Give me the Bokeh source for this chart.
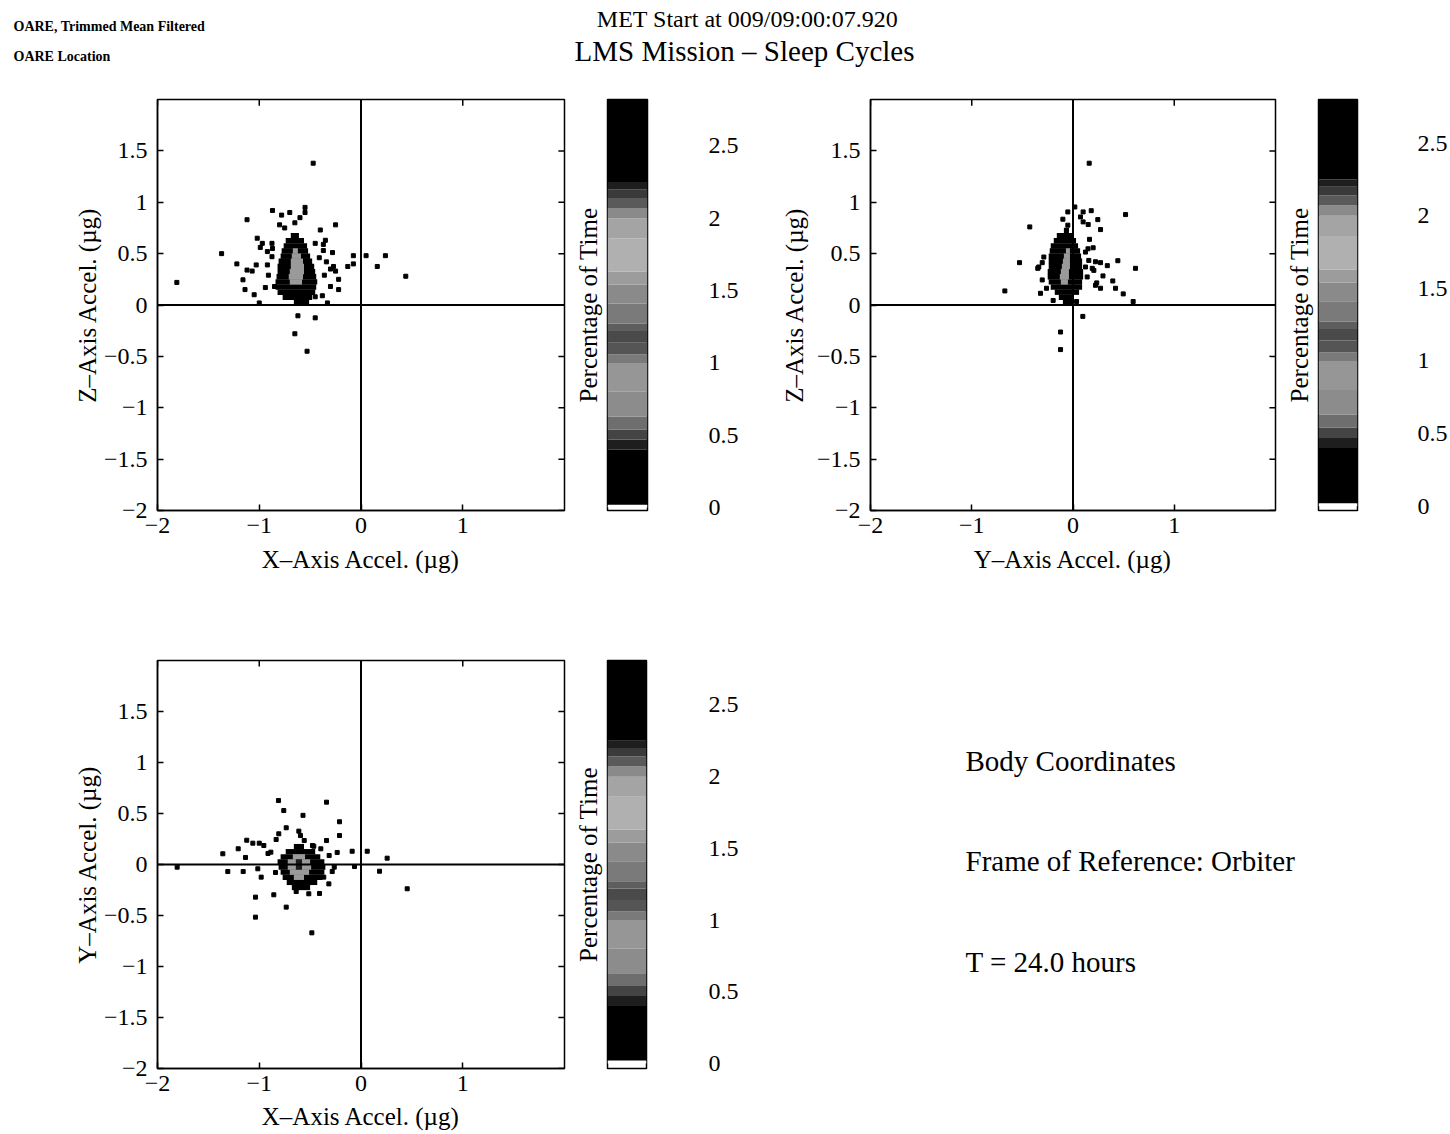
from bokeh.plotting import figure
from bokeh.models import Range1d, FixedTicker, Span, Title
from bokeh.layouts import column, row
from bokeh.embed import file_html
from bokeh.resources import INLINE
from bokeh.core.properties import value

FONT = "Liberation Serif"

# ---------------- data ----------------
x_ticks = [-2, -1, 0, 1]
x_tick_labels = ["−2", "−1", "0", "1"]
y_ticks = [-2, -1.5, -1, -0.5, 0, 0.5, 1, 1.5]
y_tick_labels = ["−2", "−1.5", "−1", "−0.5", "0", "0.5", "1", "1.5"]
cb_ticks = [0, 0.5, 1, 1.5, 2, 2.5]
cb_tick_labels = ["0", "0.5", "1", "1.5", "2", "2.5"]

# colour scale (percentage of time) band edges
cb_edges = [0.0, 0.02, 0.40, 0.47, 0.54, 0.63, 0.80, 1.00, 1.06, 1.14, 1.22,
            1.27, 1.41, 1.54, 1.63, 1.86, 2.00, 2.07, 2.14, 2.20, 2.25, 2.85]

# Panel X vs Z : dense histogram rows (bin height 0.05 ug)
xz_row_y = [0.025, 0.075, 0.125, 0.175, 0.225, 0.275, 0.325, 0.375, 0.425, 0.475, 0.525, 0.575, 0.625, 0.675]
xz_row_left = [-0.66, -0.77, -0.82, -0.84, -0.84, -0.83, -0.82, -0.82, -0.81, -0.79, -0.78, -0.76, -0.74, -0.69]
xz_row_right = [-0.51, -0.48, -0.45, -0.44, -0.43, -0.44, -0.45, -0.46, -0.48, -0.50, -0.52, -0.53, -0.56, -0.61]
xz_peak_y = [0.225, 0.275, 0.325, 0.375, 0.425, 0.475, 0.525]
xz_peak_left = [-0.70, -0.71, -0.70, -0.69, -0.69, -0.68, -0.67]
xz_peak_right = [-0.58, -0.57, -0.56, -0.56, -0.57, -0.59, -0.62]
xz_pts_x = [-1.81, -1.37, -1.12, -1.22, -1.12, -1.16, -1.14, -1.07, -1.05, -1.02, -1.03, -0.99, -0.97,
            -0.94, -0.92, -0.92, -0.91, -1.00, -0.87, -0.875, -0.87, -0.78, -0.80, -0.75, -0.70, -0.65,
            -0.60, -0.55, -0.55, -0.40, -0.25, -0.35, -0.45, -0.37, -0.37, -0.28, -0.41, -0.34, -0.27,
            -0.25, -0.30, -0.36, -0.22, -0.30, -0.22, -0.38, -0.45, -0.33, -0.13, -0.075, -0.075, 0.05,
            0.16, 0.24, 0.44, -0.62, -0.45, -0.65, -0.53, -0.85, -0.875, -0.47]
xz_pts_z = [0.22, 0.50, 0.83, 0.40, 0.34, 0.245, 0.15, 0.33, 0.10, 0.65, 0.39, 0.56, 0.60,
            0.17, 0.52, 0.39, 0.29, 0.02, 0.92, 0.60, 0.55, 0.875, 0.78, 0.75, 0.90, 0.80,
            0.85, 0.95, 0.90, 0.73, 0.78, 0.63, 0.60, 0.59, 0.53, 0.51, 0.46, 0.42, 0.375,
            0.33, 0.35, 0.29, 0.25, 0.18, 0.15, 0.09, 0.08, 0.02, 0.375, 0.48, 0.40, 0.48,
            0.375, 0.48, 0.28, -0.105, -0.125, -0.28, -0.45, 0.18, 0.47, 1.38]

# Panel Y vs Z
yz_row_y = [0.025, 0.075, 0.125, 0.175, 0.225, 0.275, 0.325, 0.375, 0.425, 0.475, 0.525, 0.575, 0.625, 0.675, 0.725]
yz_row_left = [-0.10, -0.14, -0.18, -0.22, -0.24, -0.25, -0.25, -0.24, -0.24, -0.24, -0.23, -0.22, -0.19, -0.16, -0.09]
yz_row_right = [-0.01, 0.01, 0.06, 0.09, 0.09, 0.10, 0.10, 0.09, 0.09, 0.08, 0.07, 0.05, 0.03, 0.01, -0.04]
yz_peak_y = [0.225, 0.275, 0.325, 0.375, 0.425, 0.475, 0.525]
yz_peak_left = [-0.12, -0.13, -0.12, -0.11, -0.10, -0.09, -0.07]
yz_peak_right = [-0.05, -0.04, -0.04, -0.03, -0.03, -0.03, -0.03]
yz_pts_y = [-0.427, -0.673, -0.528, -0.348, -0.304, -0.304, -0.262, -0.321, -0.196, -0.10, -0.051, -0.051,
            0.018, 0.074, 0.10, 0.10, 0.15, 0.18, 0.245, 0.272, 0.519, 0.163, 0.199, 0.222, 0.272, 0.339,
            0.443, 0.617, 0.234, 0.296, 0.272, 0.393, 0.42, 0.496, 0.594, 0.097, -0.123, -0.123, 0.148,
            0.19, 0.035, 0.16, 0.123, 0.156, 0.123, 0.206, 0.140, 0.222, -0.338, -0.288]
yz_pts_z = [0.76, 0.137, 0.412, 0.357, 0.412, 0.244, 0.163, 0.114, 0.044, 0.835, 0.906, 0.777,
            0.954, 0.857, 0.906, 0.809, 0.783, 0.918, 0.831, 0.734, 0.88, 0.639, 0.557, 0.421, 0.412, 0.383,
            0.431, 0.357, 0.215, 0.283, 0.163, 0.234, 0.163, 0.108, 0.034, -0.111, -0.263, -0.434, 0.547,
            0.357, 0.034, 1.38, 0.515, 0.434, 0.370, 0.337, 0.273, 0.192, 0.370, 0.467]

# Panel X vs Y
xy_row_y = [-0.225, -0.175, -0.125, -0.075, -0.025, 0.025, 0.075, 0.125, 0.175]
xy_row_left = [-0.68, -0.73, -0.77, -0.79, -0.81, -0.82, -0.79, -0.74, -0.66]
xy_row_right = [-0.50, -0.43, -0.38, -0.36, -0.35, -0.36, -0.40, -0.45, -0.56]
xy_peak_y = [-0.125, -0.075, -0.025, 0.025, 0.075]
xy_peak_left = [-0.66, -0.70, -0.72, -0.72, -0.67]
xy_peak_right = [-0.56, -0.51, -0.49, -0.50, -0.55]
xy_hole_y = [-0.025, 0.025]
xy_hole_left = [-0.64, -0.64]
xy_hole_right = [-0.58, -0.58]
xy_pts_x = [-1.807, -1.358, -1.309, -1.207, -1.158, -1.123, -1.135, -1.063, -1.0, -0.955, -1.014, -0.981,
            -1.037, -1.037, -0.857, -0.735, -0.483, -0.811, -0.759, -0.808, -0.834, -0.735, -0.611, -0.57,
            -0.595, -0.464, -0.339, -0.211, -0.211, -0.339, -0.234, -0.087, 0.061, 0.257, 0.182, 0.454,
            -0.064, -0.283, -0.366, -0.316, -0.408, -0.513, -0.637, -0.914, -0.84, -0.886, -0.558, -0.477,
            -0.395, -0.313, -0.263]
xy_pts_y = [-0.026, 0.105, -0.069, 0.154, -0.069, 0.238, 0.069, 0.209, 0.209, 0.186, -0.042, -0.124,
            -0.32, -0.516, -0.297, -0.418, -0.67, 0.627, 0.529, 0.301, 0.245, 0.36, 0.327, 0.482,
            0.284, 0.179, 0.611, 0.419, 0.284, 0.235, 0.118, 0.13, 0.13, 0.062, -0.066, -0.238,
            -0.02, -0.069, -0.124, -0.19, -0.284, -0.287, -0.265, 0.108, -0.078, 0.121, 0.235, 0.186,
            0.154, 0.088, -0.026]

# ---------------- styles ----------------
cb_colors = ["#ffffff", "#000000", "#1e1e1e", "#444444", "#6e6e6e", "#8c8c8c", "#969696",
             "#7a7a7a", "#555555", "#4a4a4a", "#5e5e5e", "#7a7a7a", "#8a8a8a", "#9c9c9c",
             "#b0b0b0", "#a4a4a4", "#8a8a8a", "#5a5a5a", "#3a3a3a", "#1e1e1e", "#000000"]
PEAK = "#9a9a9a"
TICK_LEN = 0.06  # data units for the mirrored (top/right) inward ticks
BIN_H = 0.053    # slight overlap so rows do not show seams


def style_axis(ax, ticks, labels, standoff, label_standoff):
    ax.ticker = FixedTicker(ticks=ticks)
    ax.major_label_overrides = {t: l for t, l in zip(ticks, labels)}
    ax.major_tick_in = 6
    ax.major_tick_out = 0
    ax.minor_tick_in = 0
    ax.minor_tick_out = 0
    ax.major_tick_line_width = 1.5
    ax.axis_line_width = 1.5
    ax.axis_line_color = "black"
    ax.major_tick_line_color = "black"
    ax.major_label_text_font = FONT
    ax.major_label_text_color = "black"
    ax.major_label_text_font_size = "24px"
    ax.major_label_standoff = standoff
    ax.axis_label_text_font = FONT
    ax.axis_label_text_font_style = "normal"
    ax.axis_label_text_font_size = "25px"
    ax.axis_label_text_color = "black"
    ax.axis_label_standoff = label_standoff


def panel(w, h, bl, br, bt, bb, xlabel, ylabel, rows, peaks, pts, hole=None,
          ylab_standoff=0, xlab_standoff=10):
    p = figure(width=w, height=h, x_range=Range1d(-2, 2), y_range=Range1d(-2, 2),
               output_backend="svg", toolbar_location=None,
               min_border_left=bl, min_border_right=br, min_border_top=bt, min_border_bottom=bb)
    p.grid.visible = False
    p.outline_line_color = "black"
    p.outline_line_width = 1.5
    p.xaxis.axis_label = xlabel
    p.yaxis.axis_label = ylabel
    style_axis(p.xaxis[0], x_ticks, x_tick_labels, standoff=7, label_standoff=xlab_standoff)
    style_axis(p.yaxis[0], y_ticks, y_tick_labels, standoff=10, label_standoff=ylab_standoff)

    # mirrored inward ticks on the top and right edges
    xr, yr = p.x_range, p.y_range
    p.segment(x0=x_ticks, x1=x_ticks, y0=[yr.end] * len(x_ticks),
              y1=[yr.end - TICK_LEN] * len(x_ticks), line_color="black", line_width=1.5)
    p.segment(x0=[xr.end] * len(y_ticks), x1=[xr.end - TICK_LEN] * len(y_ticks),
              y0=y_ticks, y1=y_ticks, line_color="black", line_width=1.5)

    ry, rl, rr = rows
    p.hbar(y=ry, left=rl, right=rr, height=BIN_H, fill_color="black", line_color=None)
    py_, pl, pr = peaks
    p.hbar(y=py_, left=pl, right=pr, height=BIN_H, fill_color=PEAK, line_color=None)
    if hole is not None:
        hy, hl, hr = hole
        p.hbar(y=hy, left=hl, right=hr, height=BIN_H, fill_color="#1a1a1a", line_color=None)
    px, pyy = pts
    p.scatter(px, pyy, marker="square", size=4, fill_color="black", line_color="black")
    p.add_layout(Span(location=0, dimension="height", line_color="black", line_width=2))
    p.add_layout(Span(location=0, dimension="width", line_color="black", line_width=2))
    return p


def colorbar(w, h, bl, br, bt, bb, label_standoff, y0, y1):
    c = figure(width=w, height=h, x_range=Range1d(0, 1), y_range=Range1d(y0, y1),
               output_backend="svg", toolbar_location=None, x_axis_location=None,
               y_axis_location="right",
               min_border_left=bl, min_border_right=br, min_border_top=bt, min_border_bottom=bb)
    c.grid.visible = False
    c.outline_line_color = "black"
    c.outline_line_width = 1.5
    c.quad(left=0, right=1, bottom=cb_edges[:-1], top=cb_edges[1:],
           fill_color=cb_colors, line_color=None)
    ax = c.yaxis[0]
    ax.ticker = FixedTicker(ticks=cb_ticks)
    ax.major_label_overrides = {t: l for t, l in zip(cb_ticks, cb_tick_labels)}
    ax.major_tick_in = 0
    ax.major_tick_out = 0
    ax.minor_tick_in = 0
    ax.minor_tick_out = 0
    ax.axis_line_color = None
    ax.major_label_text_font = FONT
    ax.major_label_text_font_size = "24px"
    ax.major_label_text_color = "black"
    ax.major_label_standoff = label_standoff
    t = Title(text="Percentage of Time", text_font=FONT, text_font_size="25px",
              text_font_style="normal", text_color="black", align="center", standoff=12)
    c.add_layout(t, "left")
    return c


# ---------------- header ----------------
hdr = figure(width=1450, height=95, x_range=Range1d(0, 1450), y_range=Range1d(95, 0),
             output_backend="svg", toolbar_location=None, x_axis_location=None,
             y_axis_location=None, min_border=0)
hdr.grid.visible = False
hdr.outline_line_color = None
hdr.text(x=[13, 13], y=[26, 56], text=["OARE, Trimmed Mean Filtered", "OARE Location"],
         text_font=value(FONT), text_font_style="bold", text_font_size="14px",
         text_align="left", text_baseline="middle", text_color="black")
hdr.text(x=[747], y=[18], text=["MET Start at 009/09:00:07.920"], text_font=value(FONT),
         text_font_size="24px", text_align="center", text_baseline="middle", text_color="black")
hdr.text(x=[744], y=[50], text=["LMS Mission – Sleep Cycles"], text_font=value(FONT),
         text_font_size="29px", text_align="center", text_baseline="middle", text_color="black")

# ---------------- row 1 (frames share top/bottom borders) ----------------
p1 = panel(566, 490, 157, 2, 4, 75, "X–Axis Accel. (µg)", "Z–Axis Accel. (µg)",
           (xz_row_y, xz_row_left, xz_row_right), (xz_peak_y, xz_peak_left, xz_peak_right),
           (xz_pts_x, xz_pts_z))
c1 = colorbar(194, 490, 41, 113, 4, 75, 61, -0.02, 2.82)
p2 = panel(517, 490, 110, 2, 4, 75, "Y–Axis Accel. (µg)", "Z–Axis Accel. (µg)",
           (yz_row_y, yz_row_left, yz_row_right), (yz_peak_y, yz_peak_left, yz_peak_right),
           (yz_pts_y, yz_pts_z), ylab_standoff=6)
c2 = colorbar(173, 490, 41, 93, 4, 75, 60, -0.03, 2.80)

# ---------------- row 2 ----------------
p3 = panel(566, 549, 157, 2, 75, 66, "X–Axis Accel. (µg)", "Y–Axis Accel. (µg)",
           (xy_row_y, xy_row_left, xy_row_right), (xy_peak_y, xy_peak_left, xy_peak_right),
           (xy_pts_x, xy_pts_y), hole=(xy_hole_y, xy_hole_left, xy_hole_right), xlab_standoff=9)
c3 = colorbar(194, 549, 41, 114, 75, 66, 62, -0.035, 2.81)

txt = figure(width=690, height=549, x_range=Range1d(0, 690), y_range=Range1d(408, 0),
             output_backend="svg", toolbar_location=None, x_axis_location=None,
             y_axis_location=None, min_border_left=0, min_border_right=0,
             min_border_top=75, min_border_bottom=66)
txt.grid.visible = False
txt.outline_line_color = None
txt.text(x=[205, 205, 205], y=[100, 200, 301],
         text=["Body Coordinates", "Frame of Reference: Orbiter", "T = 24.0 hours"],
         text_font=value(FONT), text_font_size="29px", text_align="left",
         text_baseline="middle", text_color="black")

layout = column(hdr, row(p1, c1, p2, c2), row(p3, c3, txt))
open("out.html", "w").write(file_html(layout, INLINE))
